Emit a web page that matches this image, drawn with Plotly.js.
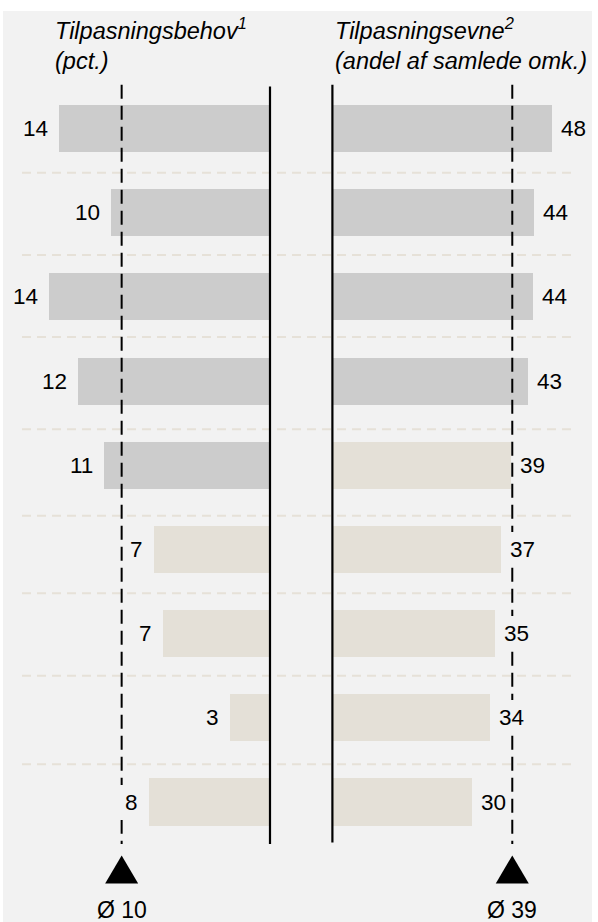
<!DOCTYPE html>
<html><head><meta charset="utf-8">
<script src="https://cdn.plot.ly/plotly-3.0.1.min.js"></script>
<style>html,body{margin:0;padding:0;background:#fff;}#chart{width:598px;height:922px;}</style>
</head><body><div id="chart"></div>
<script>
// ---- data ----
const rows = ['r1', 'r2', 'r3', 'r4', 'r5', 'r6', 'r7', 'r8', 'r9'];
const needValues = [13.57, 10.23, 14.23, 12.37, 10.68, 7.46, 6.88, 2.57, 7.78];
const abilityValues = [47.84, 43.92, 43.70, 42.61, 38.95, 36.73, 35.43, 34.34, 30.41];
const needAverage = 9.54;
const abilityAverage = 39.19;
const needTitle = 'Tilpasningsbehov<sup>1</sup><br>(pct.)';
const abilityTitle = 'Tilpasningsevne<sup>2</sup><br>(andel af samlede omk.)';
const avgPrefix = 'Ø ';

// ---- styling ----
const W = 598, H = 922;
const FONT = 'Liberation Sans, Arial, Helvetica, sans-serif';
const GRAY = '#cccccc', BEIGE = '#e4e0d7', BG = '#f2f2f2', SEP = '#e6e1d8';
const px = v => v / W;
const py = v => 1 - v / H;
const colorFor = (vals, avg) => vals.map(v => v > avg ? GRAY : BEIGE);

const needTrace = {
  type: 'bar', orientation: 'h', x: needValues, y: rows,
  xaxis: 'x', yaxis: 'y', width: 0.56,
  marker: {color: colorFor(needValues, needAverage), line: {width: 0}},
  hoverinfo: 'skip', showlegend: false
};
const abilityTrace = {
  type: 'bar', orientation: 'h', x: abilityValues, y: rows,
  xaxis: 'x2', yaxis: 'y', width: 0.56,
  marker: {color: colorFor(abilityValues, abilityAverage), line: {width: 0}},
  hoverinfo: 'skip', showlegend: false
};

const hidden = {showgrid: false, zeroline: false, showticklabels: false, showline: false, ticks: '', fixedrange: true};
const step = 84.19, firstCenter = 128.5;
const needScale = 15.55, abilityScale = 4.59;   // px per unit
const needZero = 270, abilityZero = 332.4;      // px position of the bar baselines

const annotations = [];
needValues.forEach((v, i) => annotations.push({
  x: v, y: i, xref: 'x', yref: 'y', xanchor: 'right', yanchor: 'middle',
  text: String(Math.round(v)), showarrow: false, xshift: -6,
  bgcolor: BG, borderpad: 5, borderwidth: 0,
  font: {family: FONT, size: 22.5, color: '#000'}
}));
abilityValues.forEach((v, i) => annotations.push({
  x: v, y: i, xref: 'x2', yref: 'y', xanchor: 'left', yanchor: 'middle',
  text: String(Math.round(v)), showarrow: false, xshift: 4,
  bgcolor: BG, borderpad: 5, borderwidth: 0,
  font: {family: FONT, size: 22.5, color: '#000'}
}));
annotations.push({
  x: px(53), y: py(12), xref: 'paper', yref: 'paper', xanchor: 'left', yanchor: 'top',
  align: 'left', text: needTitle, showarrow: false,
  font: {family: FONT, size: 23.5, color: '#000', style: 'italic'}
});
annotations.push({
  x: px(333), y: py(12), xref: 'paper', yref: 'paper', xanchor: 'left', yanchor: 'top',
  align: 'left', text: abilityTitle, showarrow: false,
  font: {family: FONT, size: 23.5, color: '#000', style: 'italic'}
});
[[needAverage, 'x'], [abilityAverage, 'x2']].forEach(([a, ax]) => annotations.push({
  x: a, y: py(910), xref: ax, yref: 'paper', xanchor: 'center', yanchor: 'middle',
  text: avgPrefix + Math.round(a), showarrow: false,
  font: {family: FONT, size: 23, color: '#000'}
}));

const shapes = [];
// background panel
shapes.push({type: 'rect', xref: 'paper', yref: 'paper', x0: px(3), x1: px(592), y0: 0, y1: py(11),
  fillcolor: BG, line: {width: 0}, layer: 'below'});
// row separators
[172.7, 255, 337, 429.3, 515.7, 593.3, 675.7, 764.3].forEach(p => shapes.push({
  type: 'line', xref: 'paper', yref: 'paper', x0: px(22), x1: px(575), y0: py(p), y1: py(p),
  line: {color: SEP, width: 2, dash: '9px,6px'}, layer: 'below'
}));
// axis base lines
shapes.push({type: 'line', xref: 'x', yref: 'y', x0: 0, x1: 0, y0: -0.5, y1: 8.5,
  line: {color: '#000', width: 2.2}, layer: 'above'});
shapes.push({type: 'line', xref: 'x2', yref: 'y', x0: 0, x1: 0, y0: -0.52, y1: 8.48,
  line: {color: '#000', width: 2.2}, layer: 'above'});
// average lines + triangles
[[needAverage, 'x'], [abilityAverage, 'x2']].forEach(([a, ax]) => {
  shapes.push({type: 'line', xref: ax, yref: 'y', x0: a, x1: a, y0: -0.52, y1: 8.5,
    line: {color: '#000', width: 2, dash: '14px,7px'}, layer: 'above'});
  shapes.push({type: 'path', xref: ax, yref: 'paper', xsizemode: 'pixel', ysizemode: 'pixel',
    xanchor: a, yanchor: py(883.5), path: 'M-16.5,0L16.5,0L0,28Z',
    fillcolor: '#000', line: {width: 0}, layer: 'above'});
});

const pad = 6; // px of extra domain so baseline lines are not clipped
const layout = {
  width: W, height: H, margin: {l: 0, r: 0, t: 0, b: 0, pad: 0},
  paper_bgcolor: '#ffffff', plot_bgcolor: 'rgba(0,0,0,0)',
  showlegend: false, bargap: 0,
  xaxis: Object.assign({domain: [0, px(needZero + pad)],
    range: [needZero / needScale, -pad / needScale]}, hidden),
  xaxis2: Object.assign({domain: [px(abilityZero - pad), 1],
    range: [-pad / abilityScale, (W - abilityZero) / abilityScale]}, hidden),
  yaxis: Object.assign({type: 'category', range: [(H - firstCenter) / step, -firstCenter / step]}, hidden),
  annotations: annotations, shapes: shapes
};

Plotly.newPlot('chart', [needTrace, abilityTrace], layout, {staticPlot: true, displayModeBar: false});
</script></body></html>
